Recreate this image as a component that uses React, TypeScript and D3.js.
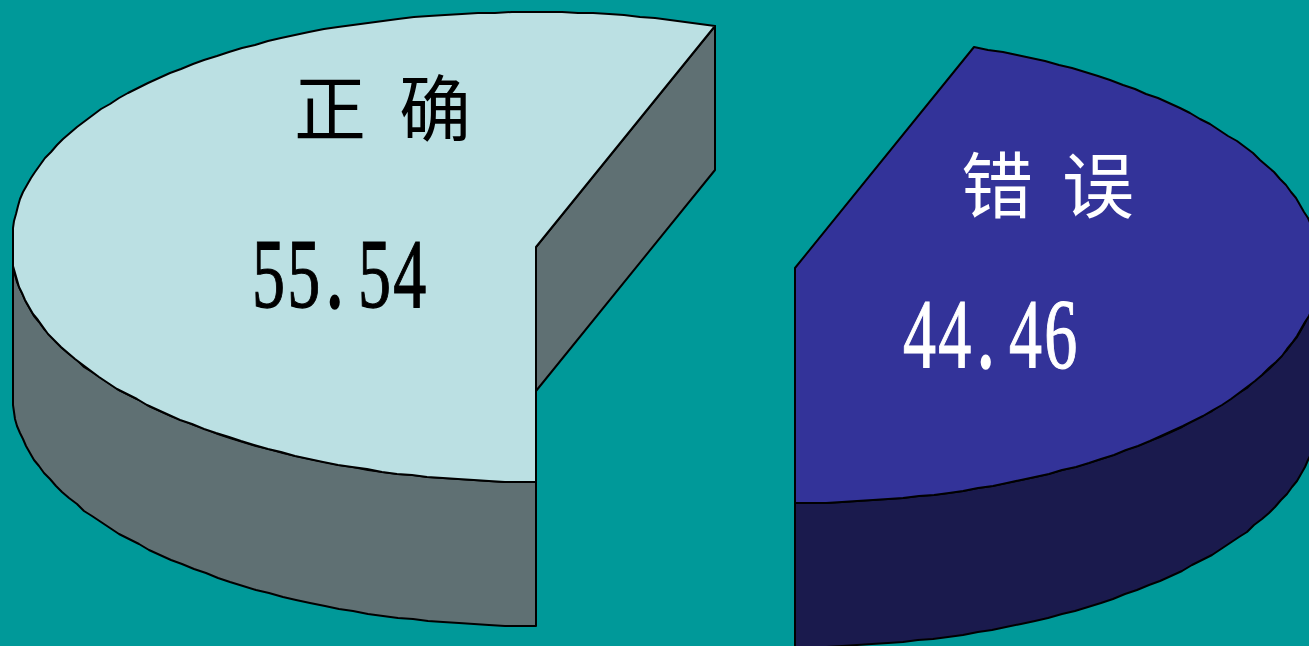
import React from "react";
import * as d3 from "d3";

const categories = ["正确", "错误"];
const shares = [55.54, 44.46];
const valueLabels = ["55.54", "44.46"];

const W = 1309, H = 646;
const RX = 524.5, RX_FLAT = 523, RY = 235, DEPTH = 144;
const BG = "#009999";
const tops = ["#BBE0E3", "#333399"];
const walls = ["#5F7073", "#1A1A4D"];
const inks = ["#000000", "#FFFFFF"];
const centers = [{ x: 536, y: 247 }, { x: 795, y: 268 }];
const nameX = [[294, 399], [961, 1062]];
const nameY = [135, 212];
const numX = [252, 903];
const numY = [307, 367];
const PITCH = 35.3;
const NUM_SCALE = 0.66;
const DOT_SHIFT = 4;

const TAU = 2 * Math.PI;
const pie = d3.pie<number>().sort(null).startAngle(Math.PI).endAngle(3 * Math.PI);
const arcs = pie(shares);
const lineGen = d3.line<[number, number]>();

function sample(a0: number, a1: number) {
  const n = Math.max(2, Math.ceil(Math.abs(a1 - a0) / 0.03));
  return d3.range(n + 1).map((i) => a0 + ((a1 - a0) * i) / n);
}

// Rim of the disc: slightly squarer in the upper-left quadrant and flattened at
// the far left, as in the coarse outline of the original drawing.
function rim(a: number): [number, number] {
  const s = Math.sin(a), c = Math.cos(a);
  const limit = RX_FLAT / RX;
  if (s < 0 && c > 0) {
    const n = 2.1;
    const u = Math.pow(Math.abs(s), 2 / n);
    const v = Math.pow(c, 2 / n);
    return [Math.max(-u, -limit), -v];
  }
  return [Math.max(s, -limit), -c];
}

function Slice({ i }: { i: number }) {
  const c = centers[i];
  const sx = d3.scaleLinear().domain([-1, 1]).range([c.x - RX, c.x + RX]);
  const sy = d3.scaleLinear().domain([-1, 1]).range([c.y - RY, c.y + RY]);
  const pt = (a: number, drop = 0): [number, number] => {
    const [u, v] = rim(a);
    return [Math.round(sx(u)), Math.round(sy(v)) + drop];
  };
  const { startAngle, endAngle } = arcs[i];
  const apex: [number, number] = [sx(0), sy(0)];
  const topPath = lineGen([apex, ...sample(startAngle, endAngle).map((a) => pt(a))]) + "Z";

  // Visible outer wall: the part of the rim on the front half of the disc.
  const shift = Math.floor(startAngle / TAU) * TAU;
  const lo = Math.max(startAngle - shift, Math.PI / 2);
  const hi = Math.min(endAngle - shift, (3 * Math.PI) / 2);
  const angles = sample(lo, hi);
  const wall = lineGen([
    ...angles.map((a) => pt(a)),
    ...angles.slice().reverse().map((a) => pt(a, DEPTH)),
  ]) + "Z";

  // Cut face of the left slice, seen along its upper straight edge.
  const edge = pt(endAngle);
  const cut = lineGen([apex, edge, [edge[0], edge[1] + DEPTH], [apex[0], apex[1] + DEPTH]]) + "Z";

  return (
    <g stroke="#000" strokeWidth={2} strokeLinejoin="round">
      {i === 0 && <path d={cut} fill={walls[i]} />}
      <path d={wall} fill={walls[i]} />
      <path d={topPath} fill={tops[i]} />
    </g>
  );
}

function Label({ i }: { i: number }) {
  const chars = Array.from(categories[i]);
  return (
    <g fill={inks[i]}>
      {chars.map((ch, k) => (
        <text key={k} x={nameX[i][k]} y={nameY[i]} fontFamily="'Noto Sans CJK SC'" fontSize={72} fontWeight={400}>
          {ch}
        </text>
      ))}
      <g transform={`translate(${numX[i]},${numY[i]}) scale(${NUM_SCALE},1)`}>
        {Array.from(valueLabels[i]).map((ch, k) => (
          <text
            key={k}
            x={(k * PITCH + (ch === "." ? DOT_SHIFT : 0)) / NUM_SCALE}
            y={0}
            fontFamily="'Liberation Serif'"
            fontSize={100}
            stroke={inks[i]}
            strokeWidth={ch === "." ? 3.5 : 1.2}
          >
            {ch}
          </text>
        ))}
      </g>
    </g>
  );
}

export default function App() {
  return (
    <svg
      width={W}
      height={H}
      viewBox={`0 0 ${W} ${H}`}
      style={{ position: "absolute", left: 0, top: 0, display: "block" }}
    >
      <rect x={0} y={0} width={W} height={H} fill={BG} />
      {arcs.map((_, i) => (
        <Slice key={i} i={i} />
      ))}
      {arcs.map((_, i) => (
        <Label key={i} i={i} />
      ))}
    </svg>
  );
}
